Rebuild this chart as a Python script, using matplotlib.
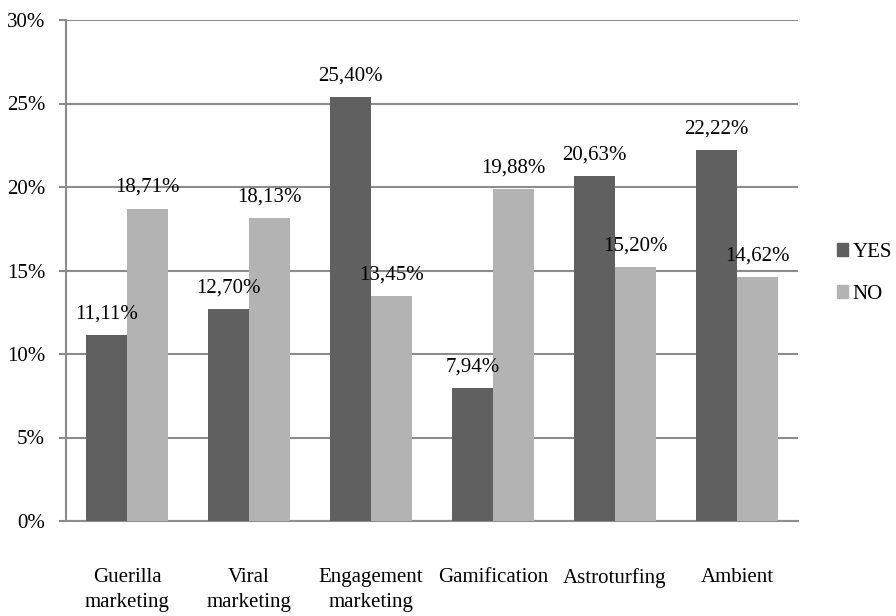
import numpy as np
import matplotlib
matplotlib.use("Agg")
import matplotlib.pyplot as plt
from matplotlib.patches import Patch

categories = ["Guerilla\nmarketing", "Viral\nmarketing", "Engagement\nmarketing",
              "Gamification", "Astroturfing", "Ambient"]
yes_vals = [11.11, 12.70, 25.40, 7.94, 20.63, 22.22]
no_vals = [18.71, 18.13, 13.45, 19.88, 15.20, 14.62]
series_names = ["YES", "NO"]

plt.rcParams['font.family'] = ['Liberation Serif', 'DejaVu Serif']

c_yes = "#606060"
c_no = "#b3b3b3"
grid_c = "#8c8c8c"

fig = plt.figure(figsize=(8.96, 6.16), dpi=100)
ax = fig.add_axes([66/896, 95/616, 732/896, 501/616])

x = np.arange(len(categories))
w = 0.333
b1 = ax.bar(x - w/2, yes_vals, w, color=c_yes, zorder=3)
b2 = ax.bar(x + w/2, no_vals, w, color=c_no, zorder=3)

for bars, vals in ((b1, yes_vals), (b2, no_vals)):
    for rect, v in zip(bars, vals):
        ax.annotate(f"{v:.2f}%".replace(".", ","),
                    (rect.get_x() + rect.get_width()/2, rect.get_height()),
                    xytext=(0, 12), textcoords="offset points",
                    ha="center", va="baseline", fontsize=15, zorder=4)

ax.set_xlim(-0.5, len(categories) - 0.5)
ax.set_ylim(0, 30)
ax.set_yticks(range(0, 31, 5))
ax.set_yticklabels([f"{t}%" for t in range(0, 31, 5)])
ax.set_xticks(x)
ax.set_xticklabels(categories, linespacing=1.4)

ax.yaxis.grid(True, color=grid_c, linewidth=1.5, zorder=0)
ax.tick_params(axis="y", length=5, width=1.5, color=grid_c, pad=10, labelsize=15)
ax.tick_params(axis="x", length=0, pad=34, labelsize=15)
for s in ("top", "right"):
    ax.spines[s].set_visible(False)
for s in ("left", "bottom"):
    ax.spines[s].set_color(grid_c)
    ax.spines[s].set_linewidth(1.5)

handles = [Patch(color=c_yes), Patch(color=c_no)]
fig.legend(handles, series_names, loc="center left", bbox_to_anchor=(837/896, 0.556),
           frameon=False, fontsize=15, handlelength=0.55, handleheight=0.55,
           handletextpad=0.2, labelspacing=1.1, borderpad=0, borderaxespad=0)

fig.savefig("out.png", dpi=100)
